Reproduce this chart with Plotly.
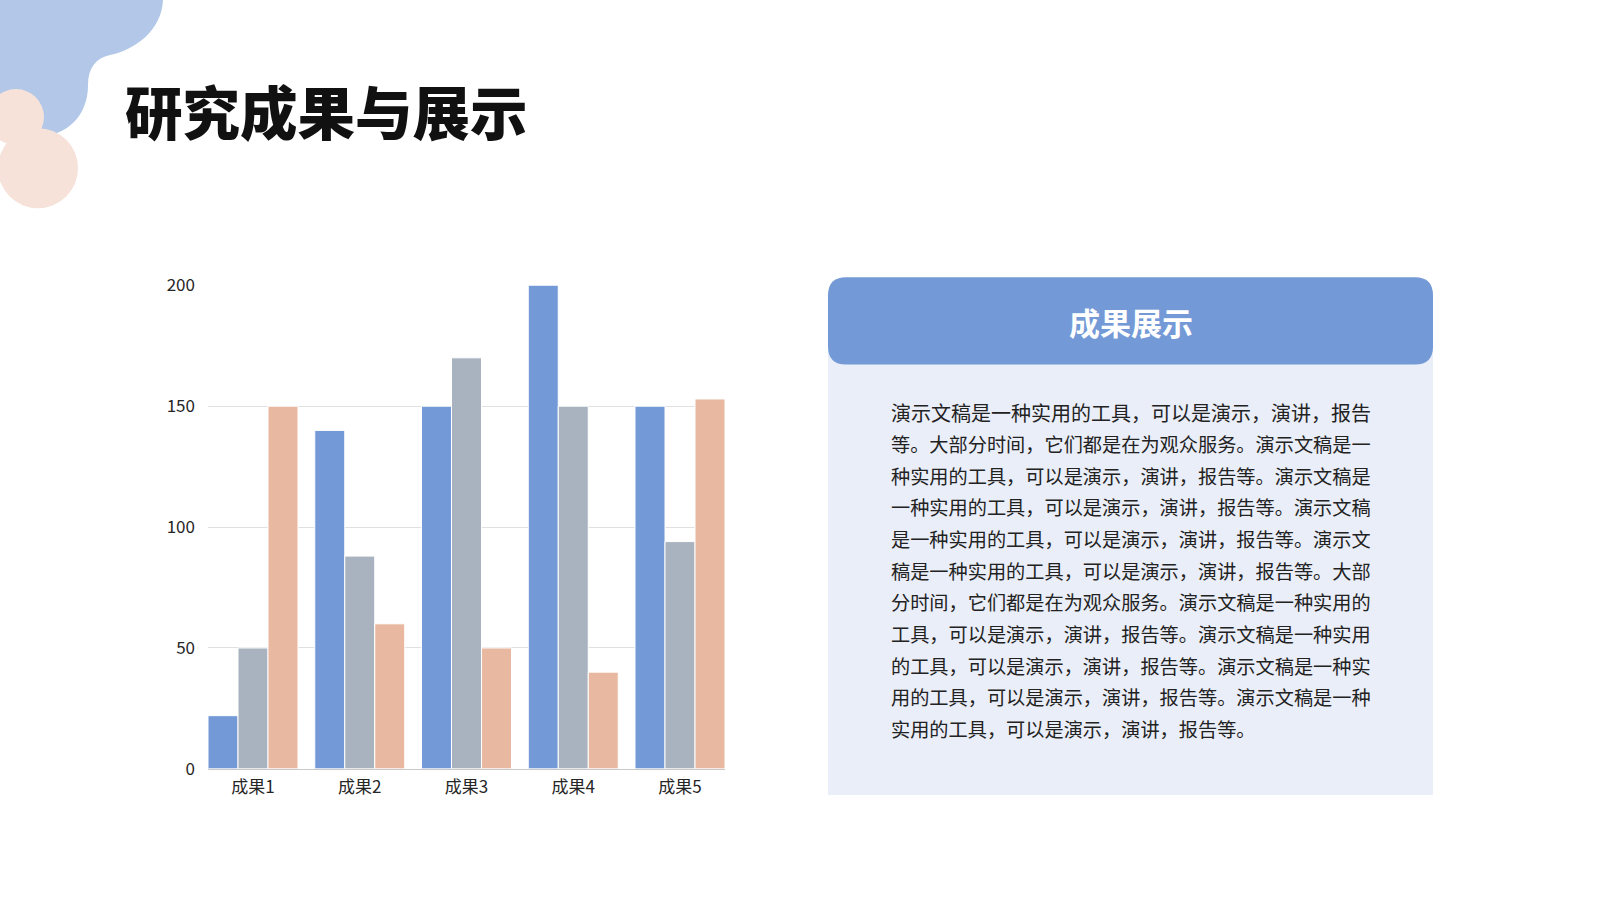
import plotly.graph_objects as go

# ---------------- data ----------------
categories = ["成果1", "成果2", "成果3", "成果4", "成果5"]
series_names = ["系列1", "系列2", "系列3"]
series_blue = [22, 140, 150, 200, 150]
series_gray = [50, 88, 170, 150, 94]
series_peach = [150, 60, 50, 40, 153]
y_ticks = [0, 50, 100, 150, 200]

title_text = "研究成果与展示"
panel_title = "成果展示"
paragraph_lines = [
    "演示文稿是一种实用的工具，可以是演示，演讲，报告",
    "等。大部分时间，它们都是在为观众服务。演示文稿是一",
    "种实用的工具，可以是演示，演讲，报告等。演示文稿是",
    "一种实用的工具，可以是演示，演讲，报告等。演示文稿",
    "是一种实用的工具，可以是演示，演讲，报告等。演示文",
    "稿是一种实用的工具，可以是演示，演讲，报告等。大部",
    "分时间，它们都是在为观众服务。演示文稿是一种实用的",
    "工具，可以是演示，演讲，报告等。演示文稿是一种实用",
    "的工具，可以是演示，演讲，报告等。演示文稿是一种实",
    "用的工具，可以是演示，演讲，报告等。演示文稿是一种",
    "实用的工具，可以是演示，演讲，报告等。",
]

# ---------------- style ----------------
W, H = 1600, 900
TOP, PH = 14.0, 874.0   # effective paper area observed in the render
FONT = "Noto Sans CJK SC"
bar_colors = ["#7399D6", "#A9B3BF", "#E8B8A0"]
header_color = "#7399D6"
panel_bg = "#EAEEF8"
blob_blue = "#B3C8E8"
blob_peach = "#F6E2D9"
BARGAP = 0.157


def px(x):
    return x / W


def py(y):
    return 1 - (y - TOP) / PH


def path_from(cmds):
    out = []
    for c in cmds:
        if isinstance(c, str):
            out.append(c)
        else:
            out.append(f"{px(c[0]):.5f},{py(c[1]):.5f}")
    return " ".join(out)


def rounded_rect(x0, y0, x1, y1, r):
    return path_from([
        "M", (x0 + r, y0), "L", (x1 - r, y0), "Q", (x1, y0), (x1, y0 + r),
        "L", (x1, y1 - r), "Q", (x1, y1), (x1 - r, y1),
        "L", (x0 + r, y1), "Q", (x0, y1), (x0, y1 - r),
        "L", (x0, y0 + r), "Q", (x0, y0), (x0 + r, y0), "Z",
    ])


def circle(cx, cy, r, color):
    return dict(type="circle", xref="paper", yref="paper",
                x0=px(cx - r), x1=px(cx + r), y0=py(cy + r), y1=py(cy - r),
                fillcolor=color, line=dict(width=0), layer="below")


fig = go.Figure()
for name, vals, col in zip(series_names, [series_blue, series_gray, series_peach], bar_colors):
    fig.add_bar(x=categories, y=vals, name=name,
                marker=dict(color=col, line=dict(color="white", width=1)))

half = (1 - BARGAP) / 2
shapes = [
    dict(type="path", xref="paper", yref="paper", layer="below",
         path=path_from(["M", (0, -20), "L", (163, -20), "L", (163, 0),
                         "C", (162, 30), (135, 50), (110, 55),
                         "C", (96, 58), (88, 68), (88, 85),
                         "C", (88, 112), (72, 132), (45, 136),
                         "L", (20, 120), "L", (0, 110), "Z"]),
         fillcolor=blob_blue, line=dict(width=0)),
    circle(16, 117, 28, blob_peach),
    circle(38, 168, 40, blob_peach),
    dict(type="rect", xref="paper", yref="paper", layer="below",
         x0=px(828), x1=px(1433), y0=py(794), y1=py(300),
         fillcolor=panel_bg, line=dict(width=0)),
    dict(type="path", xref="paper", yref="paper", layer="below",
         path=rounded_rect(828, 277, 1433, 364, 18),
         fillcolor=header_color, line=dict(width=0)),
]

annotations = [
    dict(text=title_text, x=px(123), y=py(110), xref="paper", yref="paper",
         xanchor="left", yanchor="middle", showarrow=False,
         font=dict(family=FONT, size=57.5, color="#111111", weight=900)),
    dict(text=panel_title, x=px(1130.5), y=py(321), xref="paper", yref="paper",
         xanchor="center", yanchor="middle", showarrow=False,
         font=dict(family=FONT, size=31, color="white", weight="bold")),
]
for i, line in enumerate(paragraph_lines):
    size = 20.0 if i == 0 else 19.2
    annotations.append(dict(text=line, x=px(889), y=py(412 + i * 31.6),
                            xref="paper", yref="paper", xanchor="left", yanchor="middle",
                            showarrow=False,
                            font=dict(family=FONT, size=size, color="#222222")))

fig.update_layout(
    width=W, height=H, autosize=False, margin=dict(l=0, r=0, t=0, b=0),
    paper_bgcolor="white", plot_bgcolor="white",
    barmode="group", bargap=BARGAP, bargroupgap=0, showlegend=False,
    font=dict(family=FONT, size=17, color="#262626"),
    xaxis=dict(domain=[px(208), px(725)], type="category",
               range=[-half, len(categories) - 1 + half],
               showgrid=False, zeroline=False, showline=True,
               linecolor="#C9C9C9", linewidth=1, ticks="",
               ticklabelstandoff=3, tickfont=dict(family=FONT, size=17, color="#262626")),
    yaxis=dict(domain=[py(768), py(285)], range=[0, 200], tickvals=y_ticks,
               showgrid=True, gridcolor="#E0E0E0", gridwidth=1, zeroline=False,
               showline=False, ticks="", ticklabelstandoff=12,
               tickfont=dict(family=FONT, size=17, color="#262626")),
    shapes=shapes, annotations=annotations,
)

fig.write_html(
    "out.html",
    config={"displayModeBar": False, "responsive": False},
    default_width="1600px", default_height="900px",
    post_script="document.body.style.margin='0';document.body.style.overflow='hidden';",
)
